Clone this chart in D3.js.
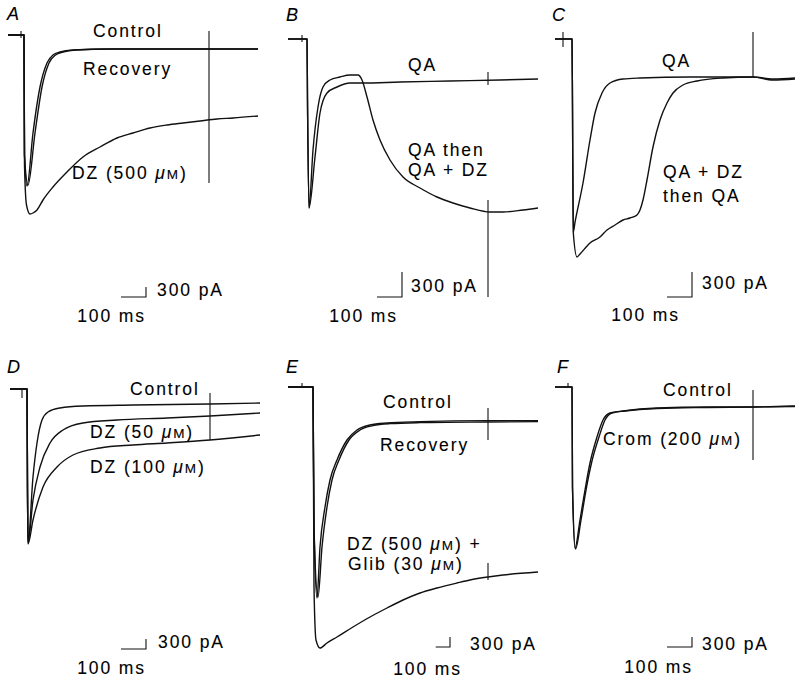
<!DOCTYPE html>
<html>
<head>
<meta charset="utf-8">
<script src="https://cdn.jsdelivr.net/npm/d3@7"></script>
<style>
body { margin: 0; background: #fff; }
text { font-family: "Liberation Sans", Arial, sans-serif; font-size: 17.5px; letter-spacing: 1.9px; fill: #000; stroke: #000; stroke-width: 0.1px; }
.panel-label { font-style: italic; font-size: 18px; letter-spacing: 0; }
.trace { fill: none; stroke: #111; stroke-width: 1.4px; stroke-linejoin: round; }
.mark { stroke: #111; stroke-width: 1.1px; fill: none; }
</style>
</head>
<body>
<svg id="fig" width="795" height="681"></svg>
<script>
// traces: [time (ms), current (pA)]
var aControl = [[0,0],[64,0],[66,-3600],[76,-4530],[100,-2940],[128,-1560],[156,-840],[180,-600],[208,-510],[260,-450],[400,-420],[1000,-420]];
var aRecovery = [[0,0],[64,0],[66,-3600],[80,-4500],[108,-2940],[136,-1560],[164,-840],[190,-600],[220,-510],[270,-450],[420,-420],[1000,-420]];
var aDZ = [[0,0],[64,0],[66,-3900],[74,-5100],[88,-5370],[100,-5340],[116,-5250],[140,-4950],[180,-4560],[236,-4110],[300,-3660],[368,-3360],[436,-3090],[500,-2940],[568,-2790],[636,-2700],[700,-2640],[768,-2580],[836,-2520],[900,-2490],[1000,-2430]];
var aTicks = [[52, 120, -90]];
var aMarkers = [[804, 120, -4440]];
var aTexts = ["Control", "Recovery", "DZ (500 μM)"];

var bQA = [[0,0],[76,0],[78,-732],[84,-2028],[108,-1416],[128,-888],[156,-648],[196,-576],[248,-528],[300,-528],[448,-516],[648,-504],[848,-492],[1000,-480]];
var bQAthenDZ = [[0,0],[76,0],[78,-732],[84,-2028],[100,-1332],[120,-816],[140,-576],[168,-492],[208,-456],[248,-432],[280,-432],[296,-492],[316,-696],[340,-972],[368,-1212],[408,-1452],[460,-1656],[528,-1788],[596,-1896],[660,-1968],[728,-2028],[808,-2076],[860,-2076],[940,-2052],[1000,-2028]];
var bTicks = [[56, 48, -36]];
var bMarkers = [[800, -396, -552], [800, -1932, -3096]];
var bTexts = ["QA", "QA then", "QA + DZ"];

var cQA = [[0,0],[68,0],[70,-800],[73,-2316],[80,-2200],[112,-1728],[140,-1212],[160,-888],[188,-648],[220,-528],[272,-480],[340,-468],[540,-456],[792,-456],[872,-480],[960,-468]];
var cDZthenQA = [[0,0],[68,0],[70,-800],[73,-2316],[88,-2616],[100,-2580],[140,-2448],[180,-2376],[208,-2292],[240,-2232],[272,-2172],[300,-2148],[328,-2112],[340,-2052],[352,-1932],[368,-1692],[392,-1296],[420,-972],[448,-768],[472,-648],[512,-552],[568,-504],[672,-468],[792,-456],[872,-492],[960,-480]];
var cTicks = [[32, 84, -96]];
var cMarkers = [[792, 84, -456]];
var cTexts = ["QA", "QA + DZ", "then QA"];

var dControl = [[0,0],[68,0],[70,-3000],[72,-4620],[92,-2640],[108,-1620],[128,-930],[152,-690],[200,-570],[292,-510],[492,-480],[800,-450],[1000,-420]];
var dDZ50 = [[0,0],[68,0],[70,-3000],[72,-4620],[92,-3330],[120,-2340],[160,-1620],[212,-1230],[292,-1020],[428,-930],[628,-870],[800,-810],[1000,-720]];
var dDZ100 = [[0,0],[68,0],[70,-3000],[72,-4650],[92,-3930],[132,-2940],[188,-2340],[252,-1980],[360,-1770],[492,-1680],[628,-1620],[800,-1530],[1000,-1380]];
var dTicks = [[48, 0, -270]];
var dMarkers = [[800, -120, -1530]];
var dTexts = ["Control", "DZ (50 μM)", "DZ (100 μM)"];

var eControl = [[0,0],[175,0],[182,-4200],[203,-6330],[224,-4800],[259,-3600],[294,-2790],[343,-2190],[413,-1590],[483,-1290],[574,-1140],[693,-1080],[924,-1040],[1393,-1010],[1750,-1010]];
var eRecovery = [[0,0],[175,0],[182,-4200],[210,-6300],[238,-4800],[273,-3600],[308,-2790],[357,-2190],[427,-1590],[504,-1290],[595,-1160],[714,-1100],[924,-1070],[1393,-1050],[1750,-1040]];
var eDZGlib = [[0,0],[175,0],[182,-6000],[196,-7590],[224,-7830],[273,-7680],[343,-7500],[455,-7200],[574,-6900],[693,-6630],[805,-6390],[924,-6180],[1043,-6030],[1183,-5880],[1274,-5790],[1400,-5700],[1505,-5640],[1750,-5550]];
var eTicks = [[98, 120, 0]];
var eMarkers = [[1400, -630, -1590], [1400, -5280, -5790]];
var eTexts = ["Control", "Recovery", "DZ (500 μM) +", "Glib (30 μM)"];

var fControl = [[0,0],[68,0],[70,-3000],[80,-4830],[100,-3990],[120,-3090],[140,-2280],[168,-1500],[192,-990],[220,-780],[272,-720],[408,-630],[608,-600],[792,-600],[960,-570]];
var fCrom = [[0,0],[68,0],[70,-3000],[82,-4860],[104,-3990],[124,-3090],[146,-2280],[176,-1500],[200,-990],[228,-780],[280,-720],[408,-645],[608,-615],[792,-600],[960,-585]];
var fTicks = [[52, 120, 0]];
var fMarkers = [[792, -90, -2190]];
var fTexts = ["Control", "Crom (200 μM)"];

var barMs = 100, barPA = 300;

// layout: origin of each panel (start of holding level), px per unit, label spots
var panels = [
    { name: "A", x0: 8, y0: 35, msPerPx: 4, pAPerPx: 30,
      traces: [aControl, aRecovery, aDZ], ticks: aTicks, markers: aMarkers, texts: aTexts,
      label: [7, 20], textPos: [[93, 37], [83, 75], [72, 179]],
      bar: { x: 146, y: 297, pa: [157, 296], ms: [146, 322] } },
    { name: "B", x0: 288, y0: 39, msPerPx: 4, pAPerPx: 12,
      traces: [bQA, bQAthenDZ], ticks: bTicks, markers: bMarkers, texts: bTexts,
      label: [286, 21], textPos: [[408, 71], [408, 156], [408, 176]],
      bar: { x: 402, y: 297, pa: [411, 292], ms: [398, 322] } },
    { name: "C", x0: 555, y0: 39, msPerPx: 4, pAPerPx: 12,
      traces: [cQA, cDZthenQA], ticks: cTicks, markers: cMarkers, texts: cTexts,
      label: [552, 21], textPos: [[662, 67], [663, 178], [663, 202]],
      bar: { x: 692, y: 297, pa: [702, 289], ms: [680, 321] } },
    { name: "D", x0: 10, y0: 389, msPerPx: 4, pAPerPx: 30,
      traces: [dControl, dDZ50, dDZ100], ticks: dTicks, markers: dMarkers, texts: dTexts,
      label: [7, 373], textPos: [[130, 395], [90, 438], [90, 473]],
      bar: { x: 146, y: 649, pa: [158, 648], ms: [146, 674] } },
    { name: "E", x0: 288, y0: 387, msPerPx: 7, pAPerPx: 30,
      traces: [eControl, eRecovery, eDZGlib], ticks: eTicks, markers: eMarkers, texts: eTexts,
      label: [286, 373], textPos: [[383, 408], [380, 451], [347, 550], [348, 570]],
      bar: { x: 450, y: 647, pa: [470, 650], ms: [462, 675] } },
    { name: "F", x0: 555, y0: 387, msPerPx: 4, pAPerPx: 30,
      traces: [fControl, fCrom], ticks: fTicks, markers: fMarkers, texts: fTexts,
      label: [557, 373], textPos: [[663, 396], [603, 445]],
      bar: { x: 692, y: 647, pa: [702, 650], ms: [693, 673] } }
];

var svg = d3.select("#fig");

function addLabel(g, str, x, y, anchor) {
    var t = g.append("text").attr("x", x).attr("y", y).attr("text-anchor", anchor || "start");
    var parts = str.split("μM");
    parts.forEach(function(p, i) {
        if (p.length) t.append("tspan").text(p);
        if (i < parts.length - 1) {
            t.append("tspan").style("font-style", "italic").text("μ");
            t.append("tspan").style("font-size", "13.5px").text("M");
        }
    });
    return t;
}

panels.forEach(function(p) {
    var g = svg.append("g").attr("class", "panel panel-" + p.name);

    var x = d3.scaleLinear().domain([0, 1000]).range([p.x0, p.x0 + 1000 / p.msPerPx]);
    var y = d3.scaleLinear().domain([0, -1000]).range([p.y0, p.y0 + 1000 / p.pAPerPx]);

    var line = d3.line()
        .x(function(d) { return x(d[0]); })
        .y(function(d) { return y(d[1]); })
        .curve(d3.curveMonotoneX);

    g.selectAll("path.trace").data(p.traces).enter()
        .append("path")
        .attr("class", "trace")
        .attr("d", line);

    g.selectAll("line.tick").data(p.ticks.concat(p.markers)).enter()
        .append("line")
        .attr("class", "mark")
        .attr("x1", function(d) { return x(d[0]); })
        .attr("x2", function(d) { return x(d[0]); })
        .attr("y1", function(d) { return y(d[1]); })
        .attr("y2", function(d) { return y(d[2]); });

    g.append("text").attr("class", "panel-label")
        .attr("x", p.label[0]).attr("y", p.label[1]).text(p.name);

    p.texts.forEach(function(s, i) {
        addLabel(g, s, p.textPos[i][0], p.textPos[i][1]);
    });

    // scale bar
    var w = x(barMs) - x(0), h = y(-barPA) - y(0);
    g.append("path").attr("class", "mark")
        .attr("d", "M" + (p.bar.x - w) + "," + p.bar.y + "H" + p.bar.x + "V" + (p.bar.y - h));
    g.append("text").attr("x", p.bar.pa[0]).attr("y", p.bar.pa[1]).text(barPA + " pA");
    g.append("text").attr("x", p.bar.ms[0]).attr("y", p.bar.ms[1])
        .attr("text-anchor", "end").text(barMs + " ms");
});
</script>
</body>
</html>
